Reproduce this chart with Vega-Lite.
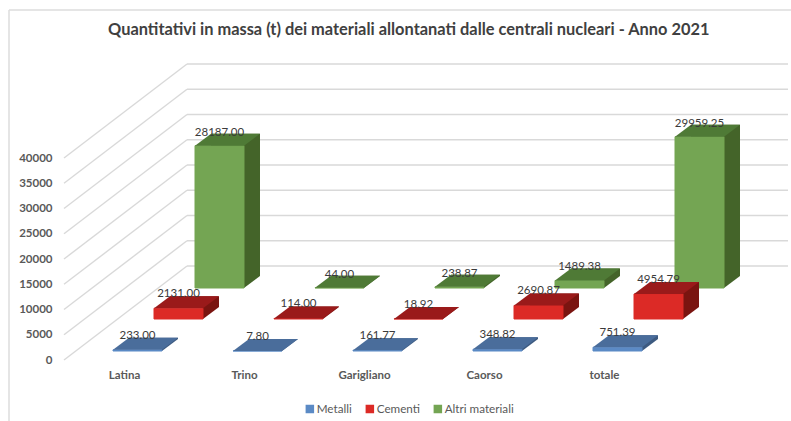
{"$schema":"https://vega.github.io/schema/vega-lite/v6.json","width":791,"height":421,"padding":0,"autosize":{"type":"none"},"background":"#ffffff","config":{"view":{"stroke":null},"font":"Lato"},
"title":{"text":"Quantitativi in massa (t) dei materiali allontanati dalle centrali nucleari - Anno 2021","anchor":"start","dx":108,"offset":-38,"font":"Lato","fontSize":16.4,"fontWeight":"bold","color":"#404040"},
"datasets":{"ticks":[{"tick":0},{"tick":5000},{"tick":10000},{"tick":15000},{"tick":20000},{"tick":25000},{"tick":30000},{"tick":35000},{"tick":40000}],
"bars":[{"centrale":"Latina","serie":"Metalli","valore":233},{"centrale":"Trino","serie":"Metalli","valore":7.8},{"centrale":"Garigliano","serie":"Metalli","valore":161.77},{"centrale":"Caorso","serie":"Metalli","valore":348.82},{"centrale":"totale","serie":"Metalli","valore":751.39},
{"centrale":"Latina","serie":"Cementi","valore":2131},{"centrale":"Trino","serie":"Cementi","valore":114},{"centrale":"Garigliano","serie":"Cementi","valore":18.92},{"centrale":"Caorso","serie":"Cementi","valore":2690.87},{"centrale":"totale","serie":"Cementi","valore":4954.79},
{"centrale":"Latina","serie":"Altri materiali","valore":28187},{"centrale":"Trino","serie":"Altri materiali","valore":44},{"centrale":"Garigliano","serie":"Altri materiali","valore":238.87},{"centrale":"Caorso","serie":"Altri materiali","valore":1489.38},{"centrale":"totale","serie":"Altri materiali","valore":29959.25}]},
"data":{"name":"ticks"},
"resolve":{"scale":{"x":"independent"}},
"layer":[
{"mark":{"type":"rule","color":"#d9d9d9","strokeWidth":1.4,"y2Offset":-94},"encoding":{"x":{"datum":0,"type":"quantitative","scale":{"domain":[0,1],"range":[64,187],"nice":false,"zero":false},"axis":null},"x2":{"datum":1},"y":{"field":"tick","type":"quantitative","title":null,"scale":{"domain":[0,40000],"range":[360,158],"nice":false},"axis":{"values":[0,5000,10000,15000,20000,25000,30000,35000,40000],"orient":"left","offset":-52,"labelPadding":0,"domain":false,"ticks":false,"grid":false,"labelFont":"Lato","labelFontSize":11.5,"labelFontWeight":"bold","labelColor":"#595959","format":"d"}},"y2":{"field":"tick"}}},
{"data":{"values":[{"bordo":"alto"}]},"mark":{"type":"rule","color":"#dcdcdc","strokeWidth":1.5},"encoding":{"x":{"datum":0,"type":"quantitative","scale":{"domain":[0,1],"range":[9,791],"nice":false,"zero":false},"axis":null},"x2":{"datum":1},"y":{"datum":69300,"type":"quantitative","scale":{"domain":[0,40000],"range":[360,158],"nice":false}}}},
{"data":{"values":[{"bordo":"sinistra"}]},"mark":{"type":"rule","color":"#dcdcdc","strokeWidth":1.5},"encoding":{"x":{"datum":0,"type":"quantitative","scale":{"domain":[0,1],"range":[9,791],"nice":false,"zero":false},"axis":null},"y":{"datum":69300,"type":"quantitative","scale":{"domain":[0,40000],"range":[360,158],"nice":false}},"y2":{"datum":-12500}}},
{"mark":{"type":"rule","color":"#d9d9d9","strokeWidth":1.4,"yOffset":-94},"encoding":{"x":{"datum":0,"type":"quantitative","scale":{"domain":[0,1],"range":[187,788],"nice":false,"zero":false},"axis":null},"x2":{"datum":1},"y":{"field":"tick","type":"quantitative","scale":{"domain":[0,40000],"range":[360,158],"nice":false}}}},
{"data":{"name":"bars"},
"encoding":{"x":{"field":"centrale","type":"nominal","title":null,"scale":{"domain":["Latina","Trino","Garigliano","Caorso","totale"],"range":[113,642],"paddingInner":0.5917,"paddingOuter":0},"axis":{"orient":"bottom","offset":-52,"labelPadding":0,"labelOffset":-13,"labelAngle":0,"domain":false,"ticks":false,"grid":false,"labelFont":"Lato","labelFontSize":11.5,"labelFontWeight":"bold","labelColor":"#595959","labelBaseline":"top"}},
"y":{"field":"valore","type":"quantitative","scale":{"domain":[0,40000],"range":[360,158],"nice":false}}},
"layer":[
{"transform":[{"filter":"datum.serie==='Altri materiali'"}],"mark":{"type":"bar","color":"#446429","xOffset":98,"yOffset":-84,"y2Offset":-84},"encoding":{"y2":{"datum":0}}},
{"transform":[{"filter":"datum.serie==='Altri materiali'"}],"mark":{"type":"point","shape":"M24.5,0L40.5,-12L24.5,-12Z","size":4,"filled":true,"opacity":1,"strokeWidth":0,"color":"#446429","xOffset":82,"yOffset":-72},"encoding":{"y":{"datum":0,"type":"quantitative","scale":{"domain":[0,40000],"range":[360,158],"nice":false}}}},
{"transform":[{"filter":"datum.serie==='Altri materiali'"}],"mark":{"type":"bar","xOffset":82,"yOffset":-72,"y2Offset":-72,"strokeWidth":1},"encoding":{"y2":{"datum":0},"color":{"field":"serie","type":"nominal","title":null,"scale":{"domain":["Metalli","Cementi","Altri materiali"],"range":["#5b8ac5","#dc2a26","#74a553"]},"legend":{"orient":"none","legendX":304,"legendY":403,"direction":"horizontal","symbolType":"square","symbolSize":49,"symbolOpacity":1,"labelFont":"Lato","labelFontSize":11.7,"labelColor":"#595959","columnPadding":11,"labelOffset":1,"title":null}},"stroke":{"field":"serie","type":"nominal","scale":{"domain":["Metalli","Cementi","Altri materiali"],"range":["#5b8ac5","#dc2a26","#74a553"]},"legend":null}}},
{"transform":[{"filter":"datum.serie==='Altri materiali'"}],"mark":{"type":"point","shape":"M-24.5,0L24.5,0L40.5,-12L-8.5,-12Z","size":4,"filled":true,"opacity":1,"strokeWidth":0,"color":"#4f7a36","xOffset":82,"yOffset":-72}},
{"transform":[{"filter":"datum.serie==='Cementi'"}],"mark":{"type":"bar","color":"#7a1410","xOffset":57,"yOffset":-53,"y2Offset":-53},"encoding":{"y2":{"datum":0}}},
{"transform":[{"filter":"datum.serie==='Cementi'"}],"mark":{"type":"point","shape":"M24.5,0L40.5,-12L24.5,-12Z","size":4,"filled":true,"opacity":1,"strokeWidth":0,"color":"#7a1410","xOffset":41,"yOffset":-41},"encoding":{"y":{"datum":0,"type":"quantitative","scale":{"domain":[0,40000],"range":[360,158],"nice":false}}}},
{"transform":[{"filter":"datum.serie==='Cementi'"}],"mark":{"type":"bar","xOffset":41,"yOffset":-41,"y2Offset":-41,"strokeWidth":1},"encoding":{"y2":{"datum":0},"color":{"field":"serie","type":"nominal","title":null,"scale":{"domain":["Metalli","Cementi","Altri materiali"],"range":["#5b8ac5","#dc2a26","#74a553"]}},"stroke":{"field":"serie","type":"nominal","scale":{"domain":["Metalli","Cementi","Altri materiali"],"range":["#5b8ac5","#dc2a26","#74a553"]},"legend":null}}},
{"transform":[{"filter":"datum.serie==='Cementi'"}],"mark":{"type":"point","shape":"M-24.5,0L24.5,0L40.5,-12L-8.5,-12Z","size":4,"filled":true,"opacity":1,"strokeWidth":0,"color":"#9a1a1a","xOffset":41,"yOffset":-41}},
{"transform":[{"filter":"datum.serie==='Metalli'"}],"mark":{"type":"bar","color":"#3d5a80","xOffset":16,"yOffset":-21,"y2Offset":-21},"encoding":{"y2":{"datum":0}}},
{"transform":[{"filter":"datum.serie==='Metalli'"}],"mark":{"type":"point","shape":"M24.5,0L40.5,-12L24.5,-12Z","size":4,"filled":true,"opacity":1,"strokeWidth":0,"color":"#3d5a80","yOffset":-9},"encoding":{"y":{"datum":0,"type":"quantitative","scale":{"domain":[0,40000],"range":[360,158],"nice":false}}}},
{"transform":[{"filter":"datum.serie==='Metalli'"}],"mark":{"type":"bar","yOffset":-9,"y2Offset":-9,"strokeWidth":1},"encoding":{"y2":{"datum":0},"color":{"field":"serie","type":"nominal","title":null,"scale":{"domain":["Metalli","Cementi","Altri materiali"],"range":["#5b8ac5","#dc2a26","#74a553"]}},"stroke":{"field":"serie","type":"nominal","scale":{"domain":["Metalli","Cementi","Altri materiali"],"range":["#5b8ac5","#dc2a26","#74a553"]},"legend":null}}},
{"transform":[{"filter":"datum.serie==='Metalli'"}],"mark":{"type":"point","shape":"M-24.5,0L24.5,0L40.5,-12L-8.5,-12Z","size":4,"filled":true,"opacity":1,"strokeWidth":0,"color":"#4a6d9b","yOffset":-9}},
{"transform":[{"filter":"datum.serie==='Altri materiali'"}],"mark":{"type":"text","font":"Lato","fontSize":11.5,"color":"#3a3a3a","xOffset":82,"yOffset":-85},"encoding":{"text":{"field":"valore","type":"quantitative","format":".2f"}}},
{"transform":[{"filter":"datum.serie==='Cementi'"}],"mark":{"type":"text","font":"Lato","fontSize":11.5,"color":"#3a3a3a","xOffset":41,"yOffset":-55},"encoding":{"text":{"field":"valore","type":"quantitative","format":".2f"}}},
{"transform":[{"filter":"datum.serie==='Metalli'"}],"mark":{"type":"text","font":"Lato","fontSize":11.5,"color":"#3a3a3a","yOffset":-23},"encoding":{"text":{"field":"valore","type":"quantitative","format":".2f"}}}
]}
]}
